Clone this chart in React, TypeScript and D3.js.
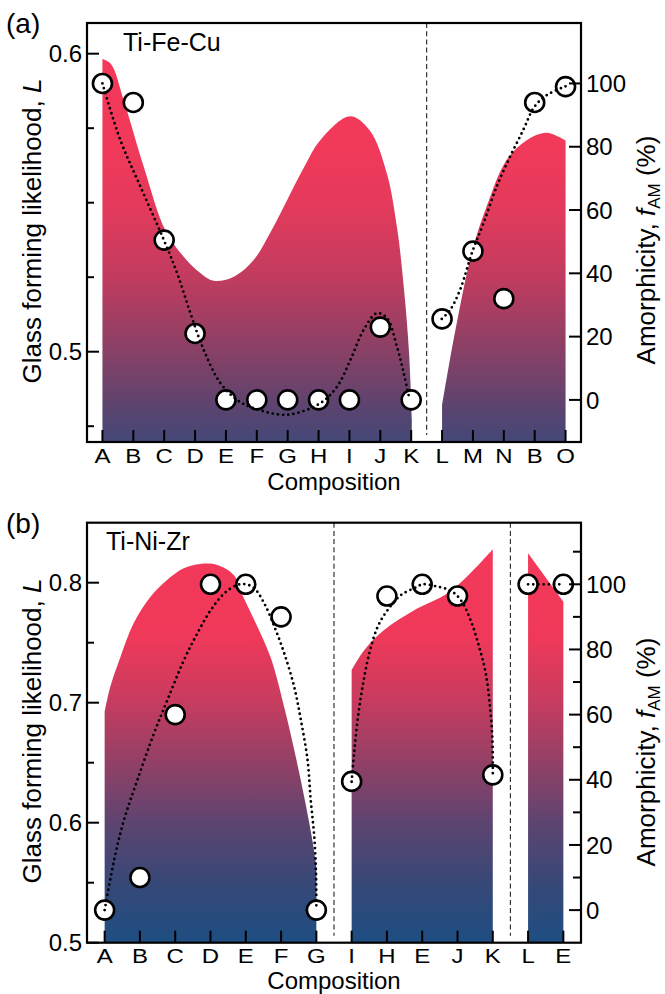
import React from "react";
import * as d3 from "d3";

const FONT = "'Liberation Sans', Arial, Helvetica, sans-serif";

// ---------- Panel (a): Ti-Fe-Cu ----------
const catsA = ["A", "B", "C", "D", "E", "F", "G", "H", "I", "J", "K", "L", "M", "N", "B", "O"];
const famA = [100, 94, 50.5, 21, 0, 0, 0, 0, 0, 23, 0, 25.6, 47, 32, 94, 99];
// glass forming likelihood L (curve, position = category index)
const lA1Pos = [0, 0.27, 0.69, 1.34, 2.05, 2.73, 3.17, 3.6, 4.24, 4.89, 5.43, 6.53, 7.05, 8.02, 8.66, 9.21, 9.54, 9.76, 9.93, 10.02];
const lA1Val = [0.5982, 0.5966, 0.5843, 0.562, 0.5405, 0.5307, 0.5264, 0.5238, 0.5251, 0.5307, 0.5398, 0.5619, 0.5709, 0.579, 0.5742, 0.5599, 0.5418, 0.5217, 0.4997, 0.4773];
const lA2Pos = [11, 11.14, 11.5, 11.98, 12.44, 13.08, 13.73, 14.38, 15];
const lA2Val = [0.482, 0.4906, 0.5109, 0.5339, 0.5486, 0.5642, 0.5709, 0.5735, 0.5709];
// dotted guide lines for amorphicity
const fitA1Pos = [0, 0.58, 1.23, 1.99, 2.42, 2.85, 3.28, 3.82, 4.36, 4.9, 5.98, 7.06, 7.6, 8.03, 8.46, 8.89, 9.22, 9.54, 9.76, 9.95];
const fitA1Val = [100, 82.1, 67.4, 50.5, 40, 27.4, 15.8, 5.3, 0, -2.6, -4.7, -1.0, 4.2, 12.6, 22.1, 27.4, 25.8, 16.8, 8.4, 0];
const fitA2Pos = [10.99, 11.26, 11.58, 11.99, 12.34, 12.77, 13.2, 13.63, 13.99, 14.39, 15.0];
const fitA2Val = [25.6, 28.4, 34.7, 47.1, 55.8, 67.4, 76.8, 85.3, 92.6, 96.3, 99.1];
const dividersA = [10.5];
const lTicksA = [0.5, 0.6];
const lMinorA = [0.475, 0.525, 0.55, 0.575];
const fTicksA = [0, 20, 40, 60, 80, 100];
const fMinorA: number[] = [];

// ---------- Panel (b): Ti-Ni-Zr ----------
const catsB = ["A", "B", "C", "D", "E", "F", "G", "I", "H", "E", "J", "K", "L", "E"];
const famB = [0, 10, 60, 100, 100, 90, 0, 39.5, 96.4, 100, 96.4, 41.5, 100, 100];
const lB1Pos = [0, 0.16, 0.45, 0.82, 1.3, 1.77, 2.24, 2.71, 3.19, 3.66, 3.86, 4.2, 4.7, 5.1, 5.4, 5.7, 5.9, 6.0];
const lB1Val = [0.6925, 0.7133, 0.7383, 0.7662, 0.7883, 0.8023, 0.812, 0.8156, 0.8148, 0.8064, 0.7925, 0.7714, 0.738, 0.695, 0.657, 0.615, 0.583, 0.563];
const lB2Pos = [7.0, 7.36, 7.92, 8.77, 9.71, 10.37, 11.0];
const lB2Val = [0.7272, 0.744, 0.7606, 0.777, 0.791, 0.808, 0.8278];
const lB3Pos = [12, 13];
const lB3Val = [0.8245, 0.7842];
const fitB1Pos = [0, 0.27, 0.55, 0.93, 1.4, 1.78, 2.25, 2.63, 3.01, 3.39, 3.76, 4.0, 4.24, 4.52, 4.81, 5.09, 5.37, 5.56, 5.75, 5.84, 5.94, 5.99, 6.0];
const fitB1Val = [0, 15.4, 27.7, 40, 54.3, 64.5, 76.8, 85, 92.1, 97.2, 99.8, 100, 98.8, 94.2, 87, 78.8, 68.6, 58.4, 46.1, 33.8, 22.6, 11.3, 0];
const fitB2Pos = [7.0, 7.07, 7.17, 7.31, 7.5, 7.74, 8.02, 8.4, 8.87, 9.0, 9.43, 9.81, 10.09, 10.37, 10.61, 10.8, 10.92, 10.99, 11.0];
const fitB2Val = [39.4, 48.2, 58.4, 68.6, 78.8, 87, 92.1, 96.7, 99.3, 100, 99.3, 98, 95.2, 89, 80.9, 72.7, 62.5, 52.2, 41.5];
const fitB3Pos = [12, 13];
const fitB3Val = [100, 100];
const dividersB = [6.5, 11.5];
const lTicksB = [0.5, 0.6, 0.7, 0.8];
const lMinorB = [0.55, 0.65, 0.75];
const fTicksB = [0, 20, 40, 60, 80, 100];
const fMinorB = [10, 30, 50, 70, 90, 110];

type Pt = { u: number; v: number };
const zip = (p: number[], v: number[]): Pt[] => p.map((u, i) => ({ u, v: v[i] }));

const stopsA = [
  [0, "#f5385a"], [0.3, "#f1395a"], [0.45, "#e23a5c"], [0.61, "#c03c5f"],
  [0.78, "#8a4066"], [0.92, "#5a446f"], [1, "#434878"],
];
const stopsB = [
  [0, "#f5385a"], [0.27, "#f0395a"], [0.43, "#c53c5f"], [0.57, "#934066"],
  [0.71, "#5f4470"], [0.86, "#364877"], [1, "#1e4e82"],
];

type PanelProps = {
  id: string;
  tag: string;
  title: string;
  titleX: number;
  top: number;
  bottom: number;
  cats: string[];
  fam: number[];
  areas: { pts: Pt[]; linear?: boolean }[];
  fits: Pt[][];
  dividers: number[];
  lDomain: [number, number];
  fDomain: [number, number];
  lTicks: number[];
  lMinor: number[];
  fTicks: number[];
  fMinor: number[];
  stops: (string | number)[][];
  lFmt: (v: number) => string;
  leftTitleY: number;
  rightTitleY: number;
  compY: number;
};

const LEFT = 87;
const RIGHT = 581;

function Panel(p: PanelProps) {
  const n = p.cats.length;
  const x = d3.scaleLinear().domain([-0.5, n - 0.5]).range([LEFT, RIGHT]);
  const yL = d3.scaleLinear().domain(p.lDomain).range([p.bottom, p.top]);
  const yF = d3.scaleLinear().domain(p.fDomain).range([p.bottom, p.top]);
  const curve = d3.curveCatmullRom.alpha(0.5);
  const clipId = `clip-${p.id}`;
  const gradId = `grad-${p.id}`;
  const fitLine = d3.line<Pt>().x((d) => x(d.u)).y((d) => yF(d.v)).curve(curve);
  return (
    <g>
      <defs>
        <clipPath id={clipId}>
          <rect x={LEFT} y={p.top} width={RIGHT - LEFT} height={p.bottom - p.top} />
        </clipPath>
        <linearGradient id={gradId} gradientUnits="userSpaceOnUse" x1={0} y1={p.top} x2={0} y2={p.bottom}>
          {p.stops.map((s, i) => (
            <stop key={i} offset={s[0] as number} stopColor={s[1] as string} />
          ))}
        </linearGradient>
      </defs>
      <g clipPath={`url(#${clipId})`}>
        {p.areas.map((a, i) => {
          const gen = d3
            .area<Pt>()
            .x((d) => x(d.u))
            .y0(p.bottom)
            .y1((d) => yL(d.v))
            .curve(a.linear ? d3.curveLinear : curve);
          return <path key={i} d={gen(a.pts) || ""} fill={`url(#${gradId})`} stroke="none" />;
        })}
        {p.dividers.map((d, i) => (
          <line key={i} x1={x(d)} x2={x(d)} y1={p.top} y2={p.bottom - 7} stroke="#333" strokeWidth={1.2} strokeDasharray="5 3.2" />
        ))}
        {p.fam.map((v, i) => (
          <circle key={i} cx={x(i)} cy={yF(v)} r={9.5} fill="#fff" stroke="#000" strokeWidth={2.6} />
        ))}
        {p.fits.map((f, i) => (
          <path key={i} d={fitLine(f) || ""} fill="none" stroke="#000" strokeWidth={2.8} strokeLinecap="round" strokeDasharray="0 5.2" />
        ))}
      </g>
      {/* frame */}
      <rect x={LEFT} y={p.top} width={RIGHT - LEFT} height={p.bottom - p.top} fill="none" stroke="#000" strokeWidth={2.2} />
      {/* x ticks */}
      {p.cats.map((c, i) => (
        <g key={i}>
          <line x1={x(i)} x2={x(i)} y1={p.bottom} y2={p.bottom - 12} stroke="#000" strokeWidth={2} />
          <text
            transform={`translate(${x(i)},${p.bottom + 20.5}) scale(1,0.82)`}
            textAnchor="middle"
            fontFamily={FONT}
            fontSize={24}
            fill="#000"
          >
            {c}
          </text>
        </g>
      ))}
      {/* left axis */}
      {p.lTicks.map((t, i) => (
        <g key={i}>
          <line x1={LEFT} x2={LEFT + 12} y1={yL(t)} y2={yL(t)} stroke="#000" strokeWidth={2} />
          <text x={LEFT - 5} y={yL(t)} dy="0.36em" textAnchor="end" fontFamily={FONT} fontSize={24} fill="#000">
            {p.lFmt(t)}
          </text>
        </g>
      ))}
      {p.lMinor.map((t, i) => (
        <line key={i} x1={LEFT} x2={LEFT + 7} y1={yL(t)} y2={yL(t)} stroke="#000" strokeWidth={2} />
      ))}
      {/* right axis */}
      {p.fTicks.map((t, i) => (
        <g key={i}>
          <line x1={RIGHT} x2={RIGHT - 12} y1={yF(t)} y2={yF(t)} stroke="#000" strokeWidth={2} />
          <text x={RIGHT + 5} y={yF(t)} dy="0.36em" textAnchor="start" fontFamily={FONT} fontSize={24} fill="#000">
            {t}
          </text>
        </g>
      ))}
      {p.fMinor.map((t, i) => (
        <line key={i} x1={RIGHT} x2={RIGHT - 8} y1={yF(t)} y2={yF(t)} stroke="#000" strokeWidth={2} />
      ))}
      {/* titles */}
      <text x={(LEFT + RIGHT) / 2} y={p.compY} textAnchor="middle" fontFamily={FONT} fontSize={24} fill="#000">
        Composition
      </text>
      <text
        transform={`translate(41,${p.leftTitleY}) rotate(-90)`}
        textAnchor="middle"
        fontFamily={FONT}
        fontSize={26}
        fill="#000"
      >
        Glass forming likelihood, <tspan fontStyle="italic">L</tspan>
      </text>
      <text transform={`translate(655,${p.rightTitleY}) rotate(-90)`} textAnchor="middle" fontFamily={FONT} fontSize={26} fill="#000">
        Amorphicity, <tspan fontStyle="italic">f</tspan>
        <tspan fontSize={17} dy={5}>AM</tspan>
        <tspan dy={-5}> (%)</tspan>
      </text>
      <text x={6} y={p.top + 10} fontFamily={FONT} fontSize={28} fill="#000">
        {p.tag}
      </text>
      <text x={p.titleX} y={p.top + 27.5} fontFamily={FONT} fontSize={25} fill="#000">
        {p.title}
      </text>
    </g>
  );
}

export default function App() {
  return (
    <svg width={665} height={994} style={{ position: "absolute", left: 0, top: 0, background: "#fff" }}>
      <rect width={665} height={994} fill="#fff" />
      <Panel
        id="a"
        tag="(a)"
        title="Ti-Fe-Cu"
        titleX={123}
        top={23}
        bottom={442}
        cats={catsA}
        fam={famA}
        areas={[{ pts: zip(lA1Pos, lA1Val) }, { pts: zip(lA2Pos, lA2Val) }]}
        fits={[zip(fitA1Pos, fitA1Val), zip(fitA2Pos, fitA2Val)]}
        dividers={dividersA}
        lDomain={[0.4697, 0.6103]}
        fDomain={[-13.3, 119.1]}
        lTicks={lTicksA}
        lMinor={lMinorA}
        fTicks={fTicksA}
        fMinor={fMinorA}
        stops={stopsA}
        lFmt={(v) => d3.format(".1f")(v)}
        leftTitleY={231}
        rightTitleY={250}
        compY={490}
      />
      <Panel
        id="b"
        tag="(b)"
        title="Ti-Ni-Zr"
        titleX={106}
        top={522.7}
        bottom={942.7}
        cats={catsB}
        fam={famB}
        areas={[{ pts: zip(lB1Pos, lB1Val) }, { pts: zip(lB2Pos, lB2Val) }, { pts: zip(lB3Pos, lB3Val), linear: true }]}
        fits={[zip(fitB1Pos, fitB1Val), zip(fitB2Pos, fitB2Val), zip(fitB3Pos, fitB3Val)]}
        dividers={dividersB}
        lDomain={[0.5, 0.85]}
        fDomain={[-10, 118.9]}
        lTicks={lTicksB}
        lMinor={lMinorB}
        fTicks={fTicksB}
        fMinor={fMinorB}
        stops={stopsB}
        lFmt={(v) => d3.format(".1f")(v)}
        leftTitleY={731}
        rightTitleY={752}
        compY={989}
      />
    </svg>
  );
}
